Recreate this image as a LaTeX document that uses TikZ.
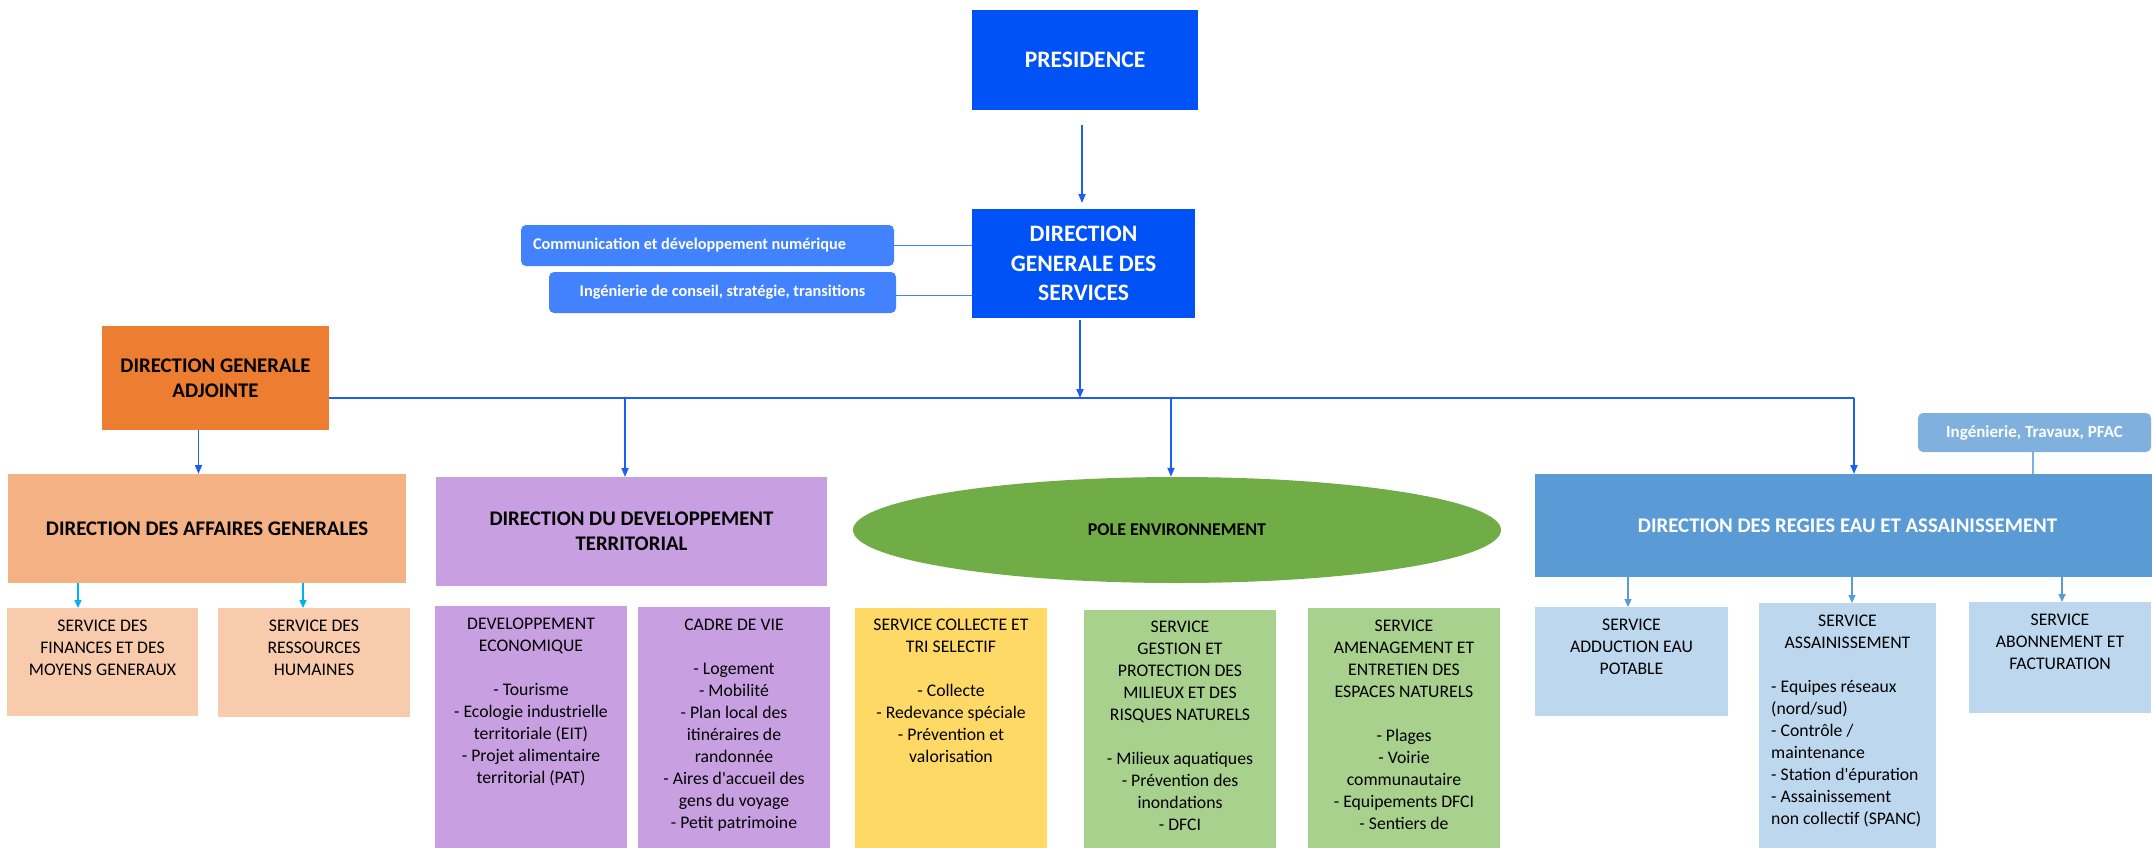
\documentclass[tikz,border=0pt]{standalone}
\usepackage{fontspec}
\setmainfont{Carlito}[Ligatures=TeXOff]
\usetikzlibrary{arrows.meta,shapes.geometric}
\definecolor{cPres}{HTML}{0052F7}
\definecolor{cSide}{HTML}{4382FF}
\definecolor{cLine}{HTML}{1A5FF0}
\definecolor{cDGA}{HTML}{ED7D31}
\definecolor{cDAG}{HTML}{F4B183}
\definecolor{cFin}{HTML}{F8CBAD}
\definecolor{cPurp}{HTML}{C8A0E2}
\definecolor{cYel}{HTML}{FFD966}
\definecolor{cGreen}{HTML}{70AD47}
\definecolor{cLGreen}{HTML}{A9D18E}
\definecolor{cDREA}{HTML}{5B9BD5}
\definecolor{cLBlue}{HTML}{BDD7EE}
\definecolor{cITP}{HTML}{7FB0DE}
\definecolor{cCyan}{HTML}{00B0F0}
\begin{document}
\begin{tikzpicture}[x=1pt,y=-1pt,
  box/.style={anchor=north west, inner sep=0pt, outer sep=0pt, draw=none, align=center},
  hdr/.style={font=\bfseries\fontsize{20.8}{25}\selectfont},
  side/.style={font=\bfseries\fontsize{16.3}{19}\selectfont, text=white, rounded corners=5pt},
  svc/.style={font=\fontsize{17.7}{22}\selectfont, align=center, anchor=north, inner sep=0pt},
  arr/.style={draw=cLine, line width=1.8pt, -{Triangle[length=9pt,width=7pt]}},
  conn/.style={draw=cLine, line width=1.8pt},
  subarr/.style={line width=1.5pt, -{Triangle[length=8pt,width=7pt]}}
]
\useasboundingbox (0,0) rectangle (2152,847);
\clip (0,0) rectangle (2152,847);

% top level
\node[box, fill=cPres, text=white, minimum width=226pt, minimum height=100pt,
  font=\bfseries\fontsize{23.6}{29.5}\selectfont] (pres) at (972,10) {PRESIDENCE};
\node[box, fill=cPres, text=white, minimum width=223pt, minimum height=109pt,
  font=\bfseries\fontsize{23.6}{29.5}\selectfont] (dgs) at (972,209) {DIRECTION\\GENERALE DES\\SERVICES};

\node[box, side, fill=cSide, minimum width=373pt, minimum height=41pt] (comm) at (521,225)
  {\makebox[349pt][l]{Communication et développement numérique}};
\node[box, side, fill=cSide, minimum width=347pt, minimum height=41pt] (ing) at (549,272)
  {Ingénierie de conseil, stratégie, transitions};

\node[box, hdr, fill=cDGA, minimum width=227pt, minimum height=104pt] (dga) at (102,326)
  {DIRECTION GENERALE\\ADJOINTE};

% directions
\node[box, hdr, fill=cDAG, minimum width=398pt, minimum height=109pt] (dag) at (8,474)
  {DIRECTION DES AFFAIRES GENERALES};
\node[box, hdr, fill=cPurp, minimum width=391pt, minimum height=109pt] (ddt) at (436,477)
  {DIRECTION DU DEVELOPPEMENT\\TERRITORIAL};
\node[ellipse, fill=cGreen, minimum width=648pt, minimum height=106pt, inner sep=0pt,
  font=\bfseries\fontsize{18}{22}\selectfont] (pole) at (1177,530) {POLE ENVIRONNEMENT};
\node[box, hdr, fill=cDREA, text=white, minimum width=625pt, minimum height=103pt] (drea) at (1535,474)
  {DIRECTION DES REGIES EAU ET ASSAINISSEMENT};
\node[box, side, fill=cITP, minimum width=233pt, minimum height=39pt,
  font=\bfseries\fontsize{17}{20}\selectfont] (itp) at (1918,413)
  {Ingénierie, Travaux, PFAC};

% services
\node[box, fill=cFin, minimum width=191pt, minimum height=108pt] (fin) at (7,608) {};
\node[svc] (finT) at (102.5,620) {SERVICE DES\\FINANCES ET DES\\MOYENS GENERAUX};
\node[box, fill=cFin, minimum width=192pt, minimum height=109pt] (rh) at (218,608) {};
\node[svc] (rhT) at (314,620) {SERVICE DES\\RESSOURCES\\HUMAINES};

\node[box, fill=cPurp, minimum width=192pt, minimum height=300pt] (dev) at (435,606) {};
\node[svc] (devT) at (531,618) {DEVELOPPEMENT\\ECONOMIQUE\\[22pt]- Tourisme\\- Ecologie industrielle\\territoriale (EIT)\\- Projet alimentaire\\territorial (PAT)};
\node[box, fill=cPurp, minimum width=192pt, minimum height=300pt] (cad) at (638,607) {};
\node[svc] (cadT) at (734,619) {CADRE DE VIE\\[22pt]- Logement\\- Mobilité\\- Plan local des\\itinéraires de\\randonnée\\- Aires d'accueil des\\gens du voyage\\- Petit patrimoine};

\node[box, fill=cYel, minimum width=192pt, minimum height=300pt] (col) at (855,608) {};
\node[svc] (colT) at (951,619) {SERVICE COLLECTE ET\\TRI SELECTIF\\[22pt]- Collecte\\- Redevance spéciale\\- Prévention et\\valorisation};
\node[box, fill=cLGreen, minimum width=192pt, minimum height=300pt] (ges) at (1084,610) {};
\node[svc] (gesT) at (1180,621) {SERVICE\\GESTION ET\\PROTECTION DES\\MILIEUX ET DES\\RISQUES NATURELS\\[22pt]- Milieux aquatiques\\- Prévention des\\inondations\\- DFCI};
\node[box, fill=cLGreen, minimum width=192pt, minimum height=300pt] (ame) at (1308,608) {};
\node[svc] (ameT) at (1404,620) {SERVICE\\AMENAGEMENT ET\\ENTRETIEN DES\\ESPACES NATURELS\\[22pt]- Plages\\- Voirie\\communautaire\\- Equipements DFCI\\- Sentiers de};

\node[box, fill=cLBlue, minimum width=193pt, minimum height=109pt] (add) at (1535,607) {};
\node[svc] (addT) at (1631.5,619) {SERVICE\\ADDUCTION EAU\\POTABLE};
\node[box, fill=cLBlue, minimum width=177pt, minimum height=300pt] (ass) at (1759,603) {};
\node[svc] (assT) at (1847.5,615) {SERVICE\\ASSAINISSEMENT};
\node[svc, align=left, anchor=north west] (assL) at (1771,680) {- Equipes réseaux\\(nord/sud)\\- Contrôle /\\maintenance\\- Station d'épuration\\- Assainissement\\non collectif (SPANC)};
\node[box, fill=cLBlue, minimum width=182pt, minimum height=111pt] (abo) at (1969,602) {};
\node[svc] (aboT) at (2060,614) {SERVICE\\ABONNEMENT ET\\FACTURATION};

% connectors
\draw[arr, shorten <=15pt, shorten >=6pt] ([xshift=-3pt]pres.south) -- ([xshift=-3pt]pres.south |- dgs.north);
\draw[conn, draw=cSide] (comm.east) -- (comm.east -| dgs.west);
\draw[conn, draw=cSide] ([yshift=-3pt]ing.east) -- ([yshift=-3pt]ing.east -| dgs.west);

\coordinate (busL) at ([yshift=-20pt]dga.east);
\coordinate (jDAG) at (625,398);
\coordinate (jPole) at (1171,398);
\coordinate (busR) at (1854,398);
\draw[conn] (busL) -- (busR);
\draw[arr] ([xshift=-3.5pt, yshift=-2pt]dgs.south) -- ([xshift=-3.5pt]dgs.south |- busR);
\draw[arr] (busR) -- (busR |- drea.north);
\draw[arr] (jDAG) -- (jDAG |- ddt.north);
\draw[arr] (jPole) -- (jPole |- pole.north);
\draw[arr] ([xshift=-17pt]dga.south) -- ([xshift=-17pt]dga.south |- dag.north);

\draw[subarr, draw=cCyan, -{Triangle[length=8pt,width=7pt,fill=cCyan]}] (dag.south -| fin.north) ++(-24.5,0) coordinate (s1) -- (s1 |- fin.north);
\draw[subarr, draw=cCyan] ([xshift=-11pt]dag.south -| rh.north) -- ([xshift=-11pt]rh.north);

\draw[subarr, draw=cDREA] ([xshift=-3.5pt]drea.south -| add.north) -- ([xshift=-3.5pt]add.north);
\draw[subarr, draw=cDREA] ([xshift=4.5pt]drea.south -| ass.north) -- ([xshift=4.5pt]ass.north);
\draw[subarr, draw=cDREA] ([xshift=2pt]drea.south -| abo.north) -- ([xshift=2pt]abo.north);
\draw[line width=1.2pt, draw=cITP] ([xshift=-1.5pt]itp.south) -- ([xshift=-1.5pt]itp.south |- drea.north);
\end{tikzpicture}
\end{document}
